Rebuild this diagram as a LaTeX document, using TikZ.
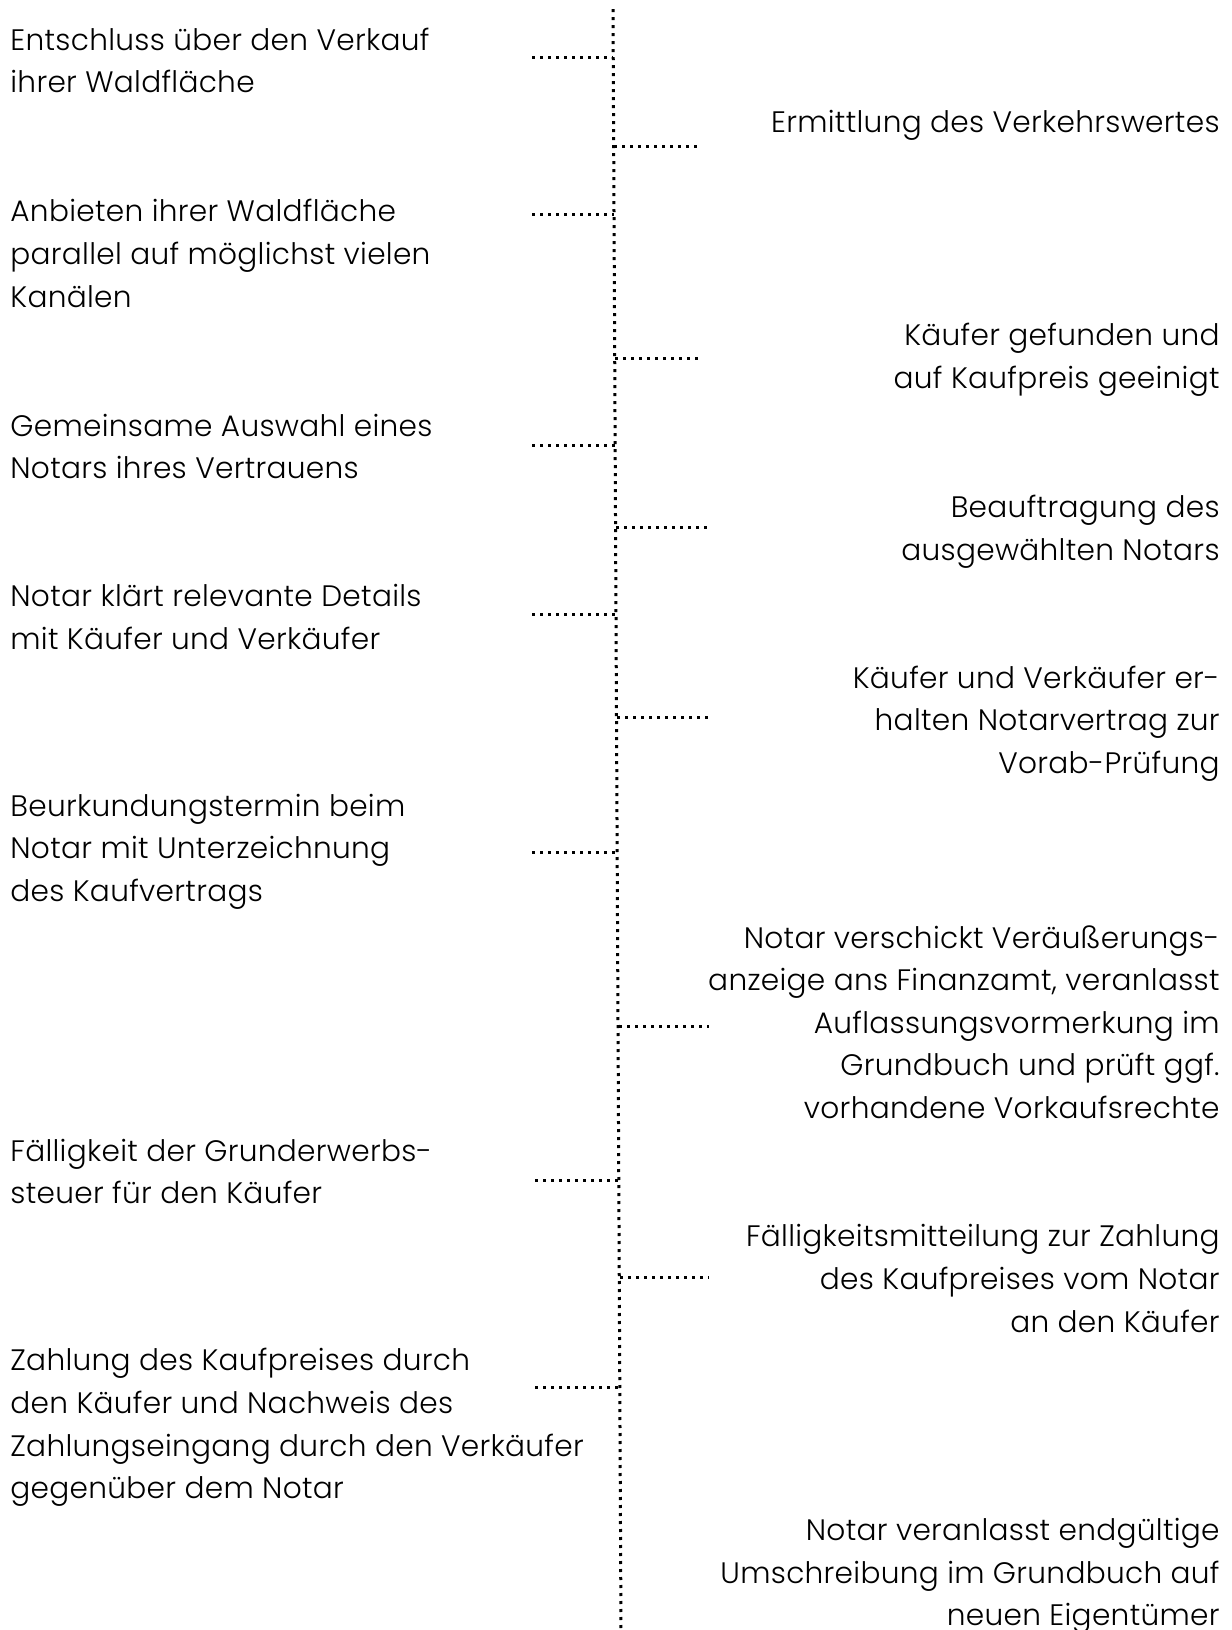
\documentclass[tikz,border=0pt]{standalone}
\usepackage{fontspec}
\setmainfont{Poppins}[UprightFont={* Light}, LetterSpace=1.0]
\usepackage{tikz}
\usetikzlibrary{positioning}
\tikzstyle{lefttext} = [anchor=west, align=left, inner sep=0pt, font=\fontsize{14.8}{21.3}\selectfont]
\tikzstyle{righttext} = [anchor=east, align=right, inner sep=0pt, font=\fontsize{14.8}{21.3}\selectfont]
\tikzstyle{tick} = [line width=1.5pt, dash pattern=on 1.5pt off 2.5pt, black]

\begin{document}
\begin{tikzpicture}[x=0.5pt, y=-0.5pt]
    \useasboundingbox (0,0) rectangle (1232,1630);
    % zeitachse
    \coordinate (top) at (613,9);
    \coordinate (bottom) at (621,1630);
    \draw [tick] (top) -- (bottom);

    % verkaeufer
    \node (l1) [lefttext] at (10,60.5) {Entschluss über den Verkauf\\ihrer Waldfläche};
    \node (l2) [lefttext] at (10,253.5) {Anbieten ihrer Waldfläche\\parallel auf möglichst vielen\\Kanälen};
    \node (l3) [lefttext] at (10,446.5) {Gemeinsame Auswahl eines\\Notars ihres Vertrauens};
    \node (l4) [lefttext] at (10,617) {Notar klärt relevante Details\\mit Käufer und Verkäufer};
    \node (l5) [lefttext] at (10,851.5) {Beurkundungstermin beim\\Notar mit Unterzeichnung\\des Kaufvertrags};
    \node (l6) [lefttext] at (10,1171.5) {Fälligkeit der Grunderwerbs-\\steuer für den Käufer};
    \node (l7) [lefttext] at (10,1427.5) {Zahlung des Kaufpreises durch\\den Käufer und Nachweis des\\Zahlungseingang durch den Verkäufer\\gegenüber dem Notar};

    % notar und kaeufer
    \node (r1) [righttext] at (1220,125.5) {Ermittlung des Verkehrswertes};
    \node (r2) [righttext] at (1220,360) {Käufer gefunden und\\auf Kaufpreis geeinigt};
    \node (r3) [righttext] at (1220,531.5) {Beauftragung des\\ausgewählten Notars};
    \node (r4) [righttext] at (1220,723.5) {Käufer und Verkäufer er-\\halten Notarvertrag zur\\Vorab-Prüfung};
    \node (r5) [righttext] at (1220,1022) {Notar verschickt Veräußerungs-\\anzeige ans Finanzamt, veranlasst\\Auflassungsvormerkung im\\Grundbuch und prüft ggf.\\vorhandene Vorkaufsrechte};
    \node (r6) [righttext] at (1220,1278.5) {Fälligkeitsmitteilung zur Zahlung\\des Kaufpreises vom Notar\\an den Käufer};
    \node (r7) [righttext] at (1220,1576) {Notar veranlasst endgültige\\Umschreibung im Grundbuch auf\\neuen Eigentümer};

    % striche
    \foreach \y/\xa/\xb in {57/532/613, 214/532/614, 445/532/615, 614/532/616, 852/532/617, 1180/535/619, 1387/535/620}
        \draw [tick] (\xa,\y) -- (\xb,\y);
    \foreach \y/\xa/\xb in {146/614/698, 358/615/698, 527/616/709, 717/617/709, 1026/619/709, 1277/620/709}
        \draw [tick] (\xa,\y) -- (\xb,\y);
\end{tikzpicture}
\end{document}
